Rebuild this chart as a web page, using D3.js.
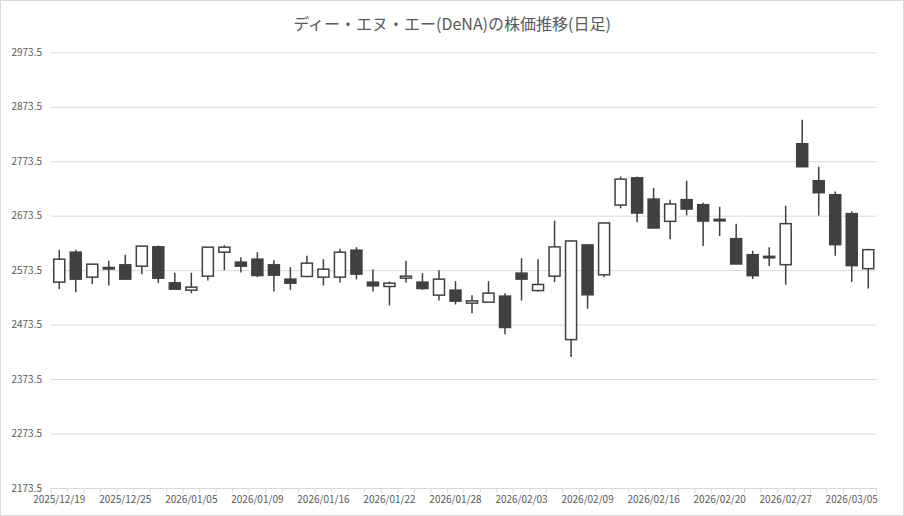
<!DOCTYPE html>
<html><head><meta charset="utf-8">
<script src="https://cdn.jsdelivr.net/npm/d3@7"></script>
<style>body{margin:0;background:#fff}svg{display:block}</style>
</head><body>
<svg id="c" width="904" height="516"></svg>
<script>
const title = "ディー・エヌ・エー(DeNA)の株価推移(日足)";
const dates = ["2025/12/19","2025/12/22","2025/12/23","2025/12/24","2025/12/25","2025/12/26","2025/12/29","2025/12/30",
"2026/01/05","2026/01/06","2026/01/07","2026/01/08","2026/01/09","2026/01/13","2026/01/14","2026/01/15","2026/01/16",
"2026/01/19","2026/01/20","2026/01/21","2026/01/22","2026/01/23","2026/01/26","2026/01/27","2026/01/28","2026/01/29","2026/01/30",
"2026/02/02","2026/02/03","2026/02/04","2026/02/05","2026/02/06","2026/02/09","2026/02/10","2026/02/12","2026/02/13",
"2026/02/16","2026/02/17","2026/02/18","2026/02/19","2026/02/20","2026/02/24","2026/02/25","2026/02/26","2026/02/27",
"2026/03/02","2026/03/03","2026/03/04","2026/03/05","2026/03/06"];
const open  = [2551.5,2606.5,2560.6,2576.6,2583.3,2580.8,2616.3,2550.2,2536.8,2562.5,2606.5,2588.2,2593.7,2583.3,2557.0,2561.9,2560.6,2560.6,2610.2,2551.5,2543.5,2558.8,2551.5,2527.6,2536.8,2512.9,2514.7,2525.8,2568.0,2536.0,2562.5,2446.0,2619.8,2564.9,2693.0,2743.0,2704.0,2663.1,2702.9,2693.7,2666.8,2631.3,2601.9,2598.9,2583.6,2805.6,2737.7,2712.0,2677.2,2576.3];
const high  = [2610.8,2610.8,2584.5,2590.6,2601.7,2617.6,2618.8,2568.6,2568.6,2615.7,2619.4,2597.4,2606.5,2591.9,2579.0,2599.8,2593.7,2612.7,2615.7,2575.3,2552.7,2590.6,2568.0,2573.5,2553.3,2527.6,2553.3,2531.3,2595.5,2593.5,2664.4,2627.1,2619.8,2660.1,2745.5,2745.5,2724.7,2702.8,2737.7,2697.4,2690.0,2658.8,2609.3,2615.4,2691.8,2849.6,2763.4,2718.1,2681.5,2612.9];
const low   = [2538.6,2533.1,2547.8,2545.3,2557.0,2566.2,2549.6,2538.6,2531.3,2554.5,2573.5,2569.2,2560.6,2534.3,2537.4,2560.6,2545.3,2550.9,2556.4,2534.3,2508.6,2550.9,2537.4,2517.8,2510.5,2494.5,2514.7,2456.0,2517.8,2533.8,2551.5,2414.2,2502.7,2560.6,2686.9,2661.3,2650.9,2630.2,2674.1,2617.8,2636.2,2584.8,2557.3,2581.1,2546.9,2763.4,2673.5,2600.1,2551.8,2539.6];
const close = [2593.7,2557.0,2584.5,2578.4,2557.0,2617.6,2558.8,2538.6,2542.3,2615.7,2615.7,2580.8,2563.7,2564.3,2549.6,2586.4,2575.3,2606.5,2566.2,2544.7,2549.6,2562.5,2539.8,2557.0,2516.6,2517.2,2531.3,2468.2,2557.0,2547.2,2616.2,2627.1,2528.3,2660.1,2740.6,2678.4,2650.9,2694.9,2685.7,2663.7,2664.3,2584.8,2563.4,2596.4,2658.8,2763.4,2715.7,2620.3,2581.8,2611.1];
const yTicks = [2173.5,2273.5,2373.5,2473.5,2573.5,2673.5,2773.5,2873.5,2973.5];
const xLabels = ["2025/12/19","2025/12/25","2026/01/05","2026/01/09","2026/01/16","2026/01/22","2026/01/28","2026/02/03","2026/02/09","2026/02/16","2026/02/20","2026/02/27","2026/03/05"];

const svg = d3.select("#c");
const W = 904, H = 516;
const font = "'Noto Sans CJK JP','Noto Sans',sans-serif";
const txt = "#595959", dark = "#404040";

svg.append("rect").attr("x",0.5).attr("y",0.5).attr("width",W-1).attr("height",H-1)
  .attr("fill","#fff").attr("stroke","#d9d9d9");

const x = d3.scaleBand().domain(dates).range([51, 876.5]).padding(0);
const y = d3.scaleLinear().domain([2173.5, 2973.5]).range([488, 52.3]);

svg.append("text").attr("x", W/2).attr("y", 30).attr("text-anchor","middle")
  .attr("font-family", font).attr("font-size", 16).attr("fill", txt).text(title);

// y grid + labels
const yAxis = d3.axisLeft(y).tickValues(yTicks).tickFormat(d3.format(".1f"))
  .tickSize(-(876.5-51)).tickPadding(9);
const gy = svg.append("g").attr("transform","translate(51,0)").call(yAxis);
gy.select(".domain").remove();
gy.selectAll(".tick line").attr("stroke","#d9d9d9");
gy.selectAll(".tick text").attr("font-family",font).attr("font-size",10).attr("fill",txt);

// x axis
const xAxis = d3.axisBottom(x).tickValues(xLabels).tickSize(0).tickPadding(8);
const gx = svg.append("g").attr("transform","translate(0,488)").call(xAxis);
gx.select(".domain").attr("stroke","#d9d9d9");
gx.selectAll(".tick text").attr("font-family",font).attr("font-size",10).attr("fill",txt);
// category boundary ticks
const bounds = dates.map(d => x(d)).concat([x(dates[dates.length-1]) + x.bandwidth()]);
svg.append("g").selectAll("line").data(bounds).join("line")
  .attr("x1", d => d).attr("x2", d => d).attr("y1", 488).attr("y2", 493)
  .attr("stroke", "#d9d9d9");

const data = dates.map((d,i) => ({d, o:open[i], h:high[i], l:low[i], c:close[i]}));
const bw = 11;
const g = svg.append("g");
g.selectAll("line.w").data(data).join("line").attr("class","w")
  .attr("x1", d => x(d.d) + x.bandwidth()/2).attr("x2", d => x(d.d) + x.bandwidth()/2)
  .attr("y1", d => y(d.h)).attr("y2", d => y(d.l))
  .attr("stroke", dark).attr("stroke-width", 1.5);
g.selectAll("rect.b").data(data).join("rect").attr("class","b")
  .attr("x", d => x(d.d) + x.bandwidth()/2 - bw/2)
  .attr("width", bw)
  .attr("y", d => y(Math.max(d.o, d.c)))
  .attr("height", d => Math.max(1.5, Math.abs(y(d.o) - y(d.c))))
  .attr("fill", d => d.c >= d.o ? "#fff" : dark)
  .attr("stroke", dark).attr("stroke-width", 1.5);
</script>
</body></html>
